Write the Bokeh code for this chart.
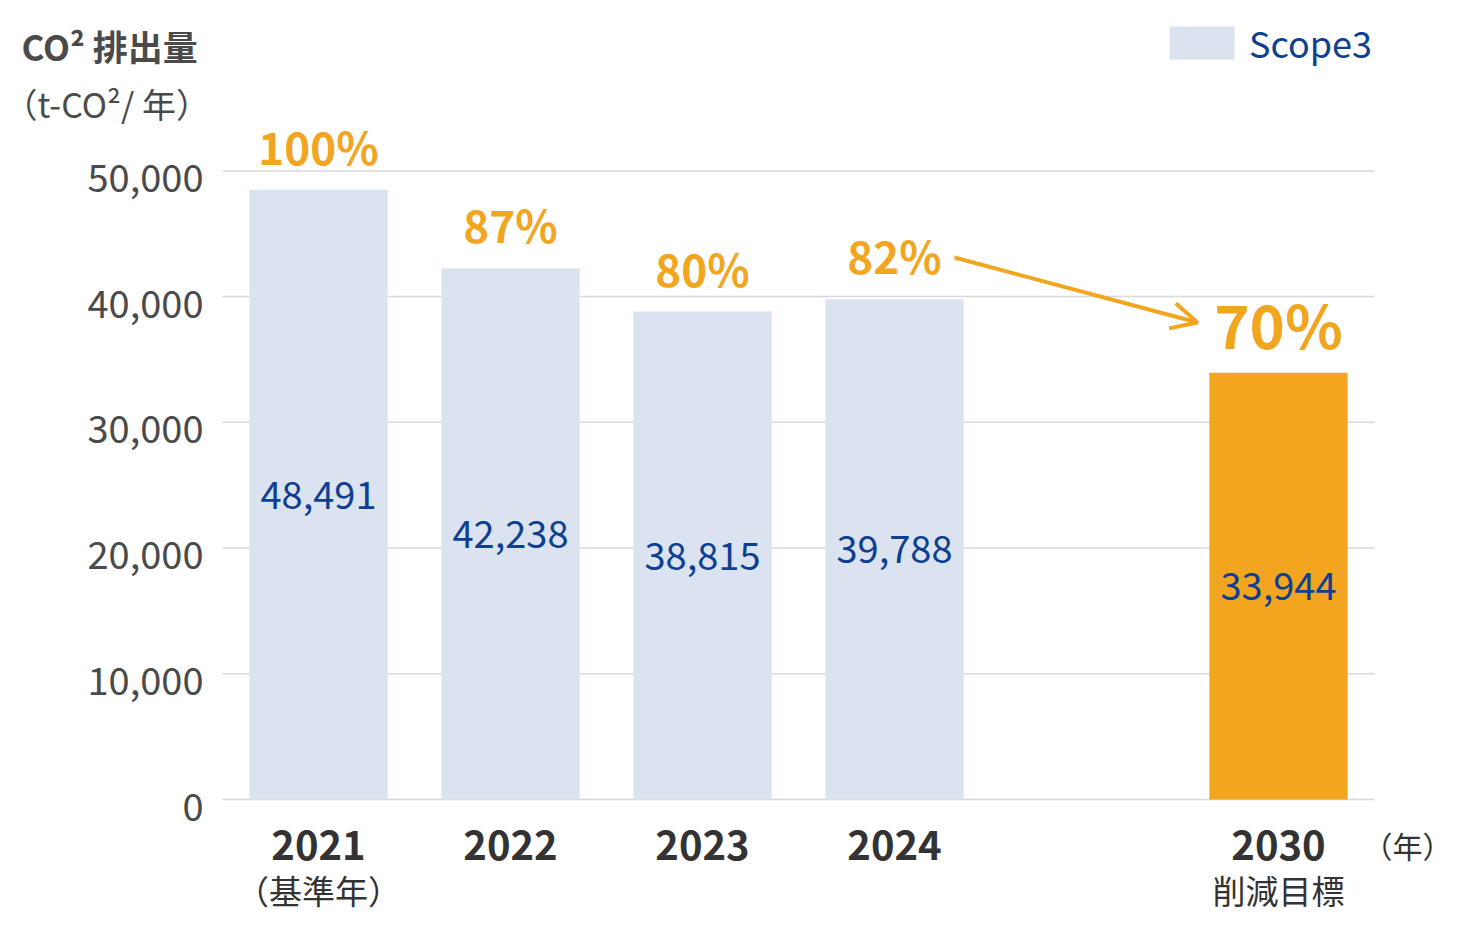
from bokeh.plotting import figure
from bokeh.models import (Range1d, ColumnDataSource, Arrow, OpenHead,
                          Legend, LegendItem)
from bokeh.core.properties import value
from bokeh.embed import file_html
from bokeh.resources import INLINE

# ---------------- data ----------------
slots = ["2021", "2022", "2023", "2024", "", "2030"]   # category slots (one empty)
years = ["2021", "2022", "2023", "2024", "2030"]
emissions = [48491, 42238, 38815, 39788, 33944]
ratio_labels = ["100%", "87%", "80%", "82%", "70%"]
sub_labels = ["（基準年）", "", "", "", "削減目標"]
y_ticks = [0, 10000, 20000, 30000, 40000, 50000]
target_year = "2030"
title_text = "CO² 排出量"
unit_text = "（t-CO²/ 年）"
x_unit_text = "（年）"
series_name = "Scope3"

# ---------------- style / layout ----------------
FONT = "Noto Sans CJK JP"
BAR = "#dae3ef"
ORANGE = "#f2a51f"
BLUE = "#0f3f93"
DARK = "#333333"
GREY = "#4a4a4a"

W, H = 1456, 930
SLOT_PX = 192.0           # width of one category slot
LEFT_PX = 222             # left edge of the plotting area
BASE_PX = 799             # y pixel of value 0
PX_PER_VAL = 628.6 / 50000


def dx(sx):
    return (sx - LEFT_PX) / SLOT_PX - 0.5


def dy(sy):
    return (BASE_PX - sy) / PX_PER_VAL


p = figure(x_range=Range1d(dx(0), dx(W)), y_range=Range1d(dy(H), dy(0)),
           width=W, height=H, output_backend="svg", toolbar_location=None,
           title=None, x_axis_type=None, y_axis_type=None,
           min_border=0, min_border_left=0, min_border_right=0,
           min_border_top=0, min_border_bottom=0)
p.outline_line_color = None
p.grid.visible = False

xpos = [float(slots.index(y)) for y in years]
colors = [ORANGE if y == target_year else BAR for y in years]
src = ColumnDataSource(dict(
    x=xpos, year=years, value=emissions, half=[v / 2 for v in emissions],
    label=[f"{v:,}" for v in emissions], pct=ratio_labels, color=colors,
    sub=sub_labels))

# horizontal grid lines across the plotting area
x_lo, x_hi = -0.5, len(slots) - 0.5
p.segment(x0=[x_lo] * len(y_ticks), x1=[x_hi] * len(y_ticks), y0=y_ticks,
          y1=y_ticks, line_color="#d9d9d9", line_width=1.5)

# y tick labels
p.text(x=[dx(203)] * len(y_ticks), y=y_ticks,
       text=[f"{t:,}" for t in y_ticks], text_align="right",
       text_baseline="middle", y_offset=7, text_font_size="38px",
       text_color=GREY, text_font=value(FONT))

# bars
bars = p.vbar(x="x", top="value", width=0.72, fill_color="color",
              line_color=None, source=src)

# value labels inside bars
p.text(x="x", y="half", text="label", source=src, text_align="center",
       text_baseline="middle", text_font_size="38px", text_color=BLUE,
       text_font=value(FONT))

# percentage labels above bars
ia = [i for i, y in enumerate(years) if y != target_year]
it = [i for i, y in enumerate(years) if y == target_year]
src_a = ColumnDataSource(dict(x=[xpos[i] for i in ia],
                              value=[emissions[i] for i in ia],
                              pct=[ratio_labels[i] for i in ia]))
src_t = ColumnDataSource(dict(x=[xpos[i] for i in it],
                              value=[emissions[i] for i in it],
                              pct=[ratio_labels[i] for i in it]))
p.text(x="x", y="value", text="pct", source=src_a, text_align="center",
       text_baseline="middle", y_offset=-44, text_font_size="44px",
       text_color=ORANGE, text_font=value(FONT), text_font_style="bold")
p.text(x="x", y="value", text="pct", source=src_t, text_align="center",
       text_baseline="middle", y_offset=-50, text_font_size="60px",
       text_color=ORANGE, text_font=value(FONT), text_font_style="bold")

# arrow from the 2024 label toward the 2030 label
p.add_layout(Arrow(x_start=dx(954), y_start=dy(257),
                   x_end=dx(1197), y_end=dy(322),
                   line_color=ORANGE, line_width=4,
                   end=OpenHead(size=26, line_color=ORANGE, line_width=4)))

# year labels (category axis)
p.text(x="x", y=dy(844), text="year", source=src, text_align="center",
       text_baseline="middle", text_font_size="40px",
       text_font_style="bold", text_color=DARK, text_font=value(FONT))
p.text(x="x", y=dy(889), text="sub", source=src, text_align="center",
       text_baseline="middle", text_font_size="33px", text_color=DARK,
       text_font=value(FONT))
p.text(x=[dx(1407)], y=[dy(844)], text=[x_unit_text], text_align="center",
       text_baseline="middle", text_font_size="30px", text_color=DARK,
       text_font=value(FONT))

# titles
p.text(x=[dx(21)], y=[dy(45)], text=[title_text], text_align="left",
       text_baseline="middle", text_font_size="35px", text_font_style="bold",
       text_color=GREY, text_font=value(FONT))
p.text(x=[dx(3)], y=[dy(103)], text=[unit_text], text_align="left",
       text_baseline="middle", text_font_size="34px", text_color=GREY,
       text_font=value(FONT))

# legend (top right)
legend = Legend(items=[LegendItem(label=series_name, renderers=[bars], index=0)],
                location=(1161, H - 68), glyph_width=81, glyph_height=41,
                label_standoff=7, label_text_font_size="36px",
                label_text_color=BLUE, label_text_font=FONT,
                label_text_baseline="middle",
                padding=0, margin=0, border_line_color=None,
                background_fill_alpha=0)
p.add_layout(legend)

open("out.html", "w").write(file_html(p, INLINE))
